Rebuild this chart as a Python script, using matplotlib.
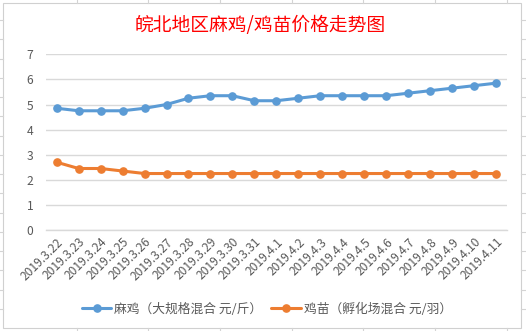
import matplotlib
matplotlib.use("Agg")
import matplotlib.pyplot as plt
from matplotlib.lines import Line2D
from matplotlib.patches import Rectangle

plt.rcParams['font.family'] = ['Noto Sans CJK SC', 'DejaVu Sans']

title = "皖北地区麻鸡/鸡苗价格走势图"
dates = ["2019.3.22", "2019.3.23", "2019.3.24", "2019.3.25", "2019.3.26", "2019.3.27",
         "2019.3.28", "2019.3.29", "2019.3.30", "2019.3.31", "2019.4.1", "2019.4.2",
         "2019.4.3", "2019.4.4", "2019.4.5", "2019.4.6", "2019.4.7", "2019.4.8",
         "2019.4.9", "2019.4.10", "2019.4.11"]
chicken_name = "麻鸡（大规格混合 元/斤）"
chicken = [4.85, 4.75, 4.75, 4.75, 4.85, 5.0, 5.25, 5.35, 5.35, 5.15, 5.15, 5.25,
           5.35, 5.35, 5.35, 5.35, 5.45, 5.55, 5.65, 5.75, 5.85]
chick_name = "鸡苗（孵化场混合 元/羽）"
chick = [2.7, 2.45, 2.45, 2.35, 2.25, 2.25, 2.25, 2.25, 2.25, 2.25, 2.25, 2.25,
         2.25, 2.25, 2.25, 2.25, 2.25, 2.25, 2.25, 2.25, 2.25]
yticks = [0, 1, 2, 3, 4, 5, 6, 7]

W, H = 526, 331
fig = plt.figure(figsize=(W / 100, H / 100), dpi=100)
fig.patch.set_facecolor('white')

# spreadsheet background lines outside the chart
grid_c = '#D4D4D4'
for xv in [77, 148, 220, 292, 363, 435, 507]:
    fig.add_artist(Line2D([xv / W, xv / W], [1 - 3 / H, 1], color=grid_c, lw=0.8))
    fig.add_artist(Line2D([xv / W, xv / W], [0, 1 - 328 / H], color=grid_c, lw=0.8))
for yv in [20, 39, 59, 78, 97, 116, 136, 155, 174, 193, 213, 232, 251, 270, 290, 309]:
    fig.add_artist(Line2D([0, 3 / W], [1 - yv / H, 1 - yv / H], color=grid_c, lw=0.8))
    fig.add_artist(Line2D([521 / W, 1], [1 - yv / H, 1 - yv / H], color=grid_c, lw=0.8))
fig.add_artist(Rectangle((3 / W, 1 - 328 / H), 518 / W, 325 / H, fill=True,
                         facecolor='white', edgecolor='#D0D0D0', lw=0.8, zorder=0))

ax = fig.add_axes([45.7 / W, 1 - 230 / H, (507 - 45.7) / W, (230 - 54.3) / H])
ax.set_facecolor('none')
x = list(range(len(dates)))
ax.plot(x, chicken, color='#5B9BD5', lw=2.2, marker='o', ms=5.2, label=chicken_name,
        solid_capstyle='round', zorder=3)
ax.plot(x, chick, color='#ED7D31', lw=2.2, marker='o', ms=5.2, label=chick_name,
        solid_capstyle='round', zorder=3)

ax.set_xlim(-0.5, len(dates) - 0.5)
ax.set_ylim(0, 7)
ax.set_yticks(yticks)
ax.set_yticklabels([str(v) for v in yticks])
ax.set_xticks(x)
ax.set_xticklabels(dates, rotation=45, ha='right', va='top', rotation_mode='anchor')
ax.grid(axis='y', color='#D9D9D9', lw=1.0)
ax.set_axisbelow(True)
for s in ['top', 'right', 'left']:
    ax.spines[s].set_visible(False)
ax.spines['bottom'].set_color('#D9D9D9')
ax.spines['bottom'].set_linewidth(1.0)
ax.tick_params(axis='both', length=0, colors='#595959', labelsize=8.7)
ax.tick_params(axis='y', pad=9)
ax.tick_params(axis='x', pad=4)

fig.text(260 / W, 1 - 25 / H, title, color='#FF0000', fontsize=13.5,
         ha='center', va='center', fontweight='medium')

leg = fig.legend(loc='center', bbox_to_anchor=(267 / W, 1 - 309 / H), ncol=2,
                 frameon=False, fontsize=9.2, handlelength=2.3, columnspacing=0.7,
                 handletextpad=0.25)
for t in leg.get_texts():
    t.set_color('#595959')

fig.savefig('out.png', dpi=100, facecolor='white')
